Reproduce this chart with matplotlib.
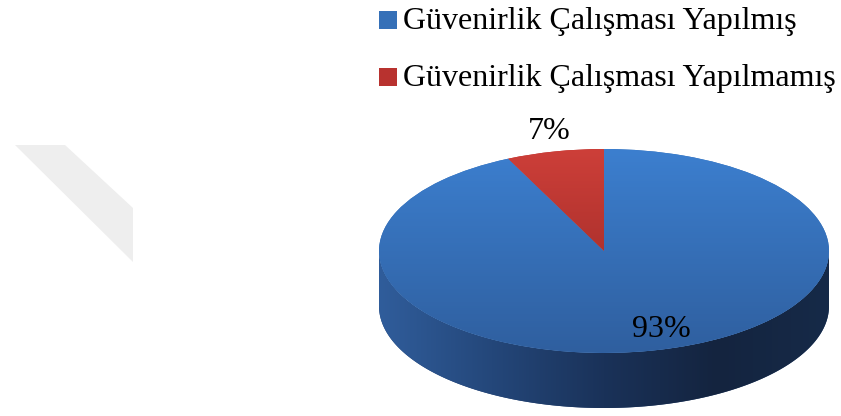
import numpy as np
import matplotlib
matplotlib.use("Agg")
import matplotlib.pyplot as plt
from matplotlib.patches import Polygon, Rectangle
from matplotlib.colors import LinearSegmentedColormap

categories = ["Güvenirlik Çalışması Yapılmış", "Güvenirlik Çalışması Yapılmamış"]
values = [93, 7]
pct_labels = ["93%", "7%"]

W, H = 841, 416
fig = plt.figure(figsize=(W / 100, H / 100), dpi=100)
fig.patch.set_facecolor("white")

# background pixel axes
bg = fig.add_axes([0, 0, 1, 1])
bg.set_xlim(0, W)
bg.set_ylim(H, 0)
bg.axis("off")
bg.add_patch(Polygon([(15, 145), (65, 145), (133, 208), (133, 262)],
                     closed=True, facecolor="#eeeeee", edgecolor="none", zorder=0))

# pie axes (ellipse + side)
d = 0.54
x0, x1, ytop, ybot = 379, 829, 149, 408
ax = fig.add_axes([x0 / W, (H - ybot) / H, (x1 - x0) / W, (ybot - ytop) / H])
wedges, _ = ax.pie(values, startangle=90, counterclock=False, radius=1,
                   colors=["#3570b8", "#b8322f"],
                   wedgeprops=dict(linewidth=0))
ax.set_aspect("auto")
ax.set_xlim(-1, 1)
ax.set_ylim(-1 - d, 1)
ax.axis("off")

# side of the pie
t = np.linspace(np.pi, 2 * np.pi, 200)
xs = np.cos(t)
ys = np.sin(t)
side_pts = np.concatenate([np.column_stack([xs, ys]),
                           np.column_stack([xs[::-1], ys[::-1] - d])])
side = Polygon(side_pts, closed=True, facecolor="#22406e", edgecolor="none", zorder=1)
ax.add_patch(side)
side_cmap = LinearSegmentedColormap.from_list(
    "side", ["#305d9b", "#24477a", "#1a3259", "#14243f", "#162a48"])
grad_h = np.linspace(0, 1, 256).reshape(1, -1)
im = ax.imshow(grad_h, cmap=side_cmap, extent=(-1, 1, -1 - d, 0.05),
               aspect="auto", zorder=2, interpolation="bicubic")
im.set_clip_path(side)

# top gradients
for w in wedges:
    w.set_zorder(3)
grad_v = np.linspace(0, 1, 256).reshape(-1, 1)
top_cmaps = [LinearSegmentedColormap.from_list("b", ["#3c7fcf", "#2f5f9f"]),
             LinearSegmentedColormap.from_list("r", ["#cd3f39", "#932522"])]
for w, cm in zip(wedges, top_cmaps):
    imt = ax.imshow(grad_v, cmap=cm, extent=(-1, 1, -1, 1), origin="upper",
                    aspect="auto", zorder=4, interpolation="bicubic")
    imt.set_clip_path(w)

# percentage labels (figure pixel coords -> fraction)
label_pos = [(661, 337), (549, 139)]
for lab, (lx, ly) in zip(pct_labels, label_pos):
    fig.text(lx / W, 1 - ly / H, lab, ha="center", va="baseline", fontsize=23,
             family="Liberation Serif", color="black", zorder=10)

# legend
leg_colors = ["#3570b8", "#b8322f"]
for i, (name, c) in enumerate(zip(categories, leg_colors)):
    yc = 20 + i * 57
    bg.add_patch(Rectangle((379, yc - 9), 18, 18, facecolor=c, edgecolor="none"))
    fig.text(403 / W, 1 - (yc + 9) / H, name, ha="left", va="baseline", fontsize=23,
             family="Liberation Serif", color="black")

fig.savefig("out.png", dpi=100, facecolor="white")
